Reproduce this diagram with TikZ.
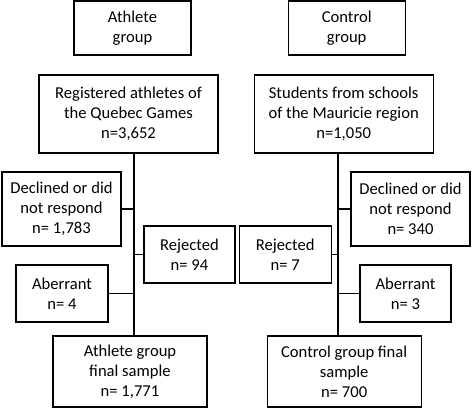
\documentclass[tikz,border=0pt]{standalone}
\usepackage{fontspec}
\setmainfont{Carlito}
\usetikzlibrary{positioning, calc}

\begin{document}
\begin{tikzpicture}[
    x=1pt, y=1pt,
    box/.style={rectangle, draw, line width=1.2pt, align=center, inner sep=2pt, font=\fontsize{16.6}{20}\selectfont},
    link/.style={line width=1.2pt}
]
\useasboundingbox (0,0) rectangle (472,-409);

% group headers
\node[box, minimum width=117pt, minimum height=54pt] (athg) at (132.5,-28) {Athlete\\group};
\node[box, minimum width=117pt, minimum height=54pt, right=96pt of athg] (ctlg) {Control\\group};

% source populations
\node[box, minimum width=179pt, minimum height=78pt] (reg) at (128.5,-114) {Registered athletes of\\the Quebec Games\\n=3,652};
\node[box, minimum width=179pt, minimum height=78pt, right=35pt of reg] (stu) {Students from schools\\of the Mauricie region\\n=1,050};

% exclusions
\node[box, minimum width=119pt, minimum height=74pt] (decA) at (61.5,-209) {Declined or did\\not respond\\n= 1,783};
\node[box, minimum width=91pt, minimum height=57pt] (rejA) at (189.5,-254.5) {Rejected\\n= 94};
\node[box, minimum width=92pt, minimum height=57pt, right=3pt of rejA] (rejC) {Rejected\\n= 7};
\node[box, minimum width=119pt, minimum height=74pt] (decC) at (410.5,-209) {Declined or did\\not respond\\n= 340};
\node[box, minimum width=92pt, minimum height=57pt] (abA) at (62,-293.5) {Aberrant\\n= 4};
\node[box, minimum width=91pt, minimum height=57pt] (abC) at (405.5,-293.5) {Aberrant\\n= 3};

% final samples
\node[box, minimum width=154pt, minimum height=71pt] (finA) at (130,-371.5) {Athlete group\\final sample\\n= 1,771};
\node[box, minimum width=154pt, minimum height=71pt, right=59pt of finA] (finC) {Control group final\\sample\\n= 700};

% spines
\coordinate (spA) at (134,0);
\coordinate (spC) at (338,0);
\draw[link] (reg.south -| spA) -- (finA.north -| spA);
\draw[link] (stu.south -| spC) -- (finC.north -| spC);

% branches
\draw[link] (decA.east) -- (decA.east -| spA);
\draw[link] (abA.east) -- (abA.east -| spA);
\draw[link] (rejA.west) -- (rejA.west -| spA);
\draw[link] (decC.west) -- (decC.west -| spC);
\draw[link] (abC.west) -- (abC.west -| spC);
\draw[link] (rejC.east) -- (rejC.east -| spC);

\end{tikzpicture}
\end{document}
